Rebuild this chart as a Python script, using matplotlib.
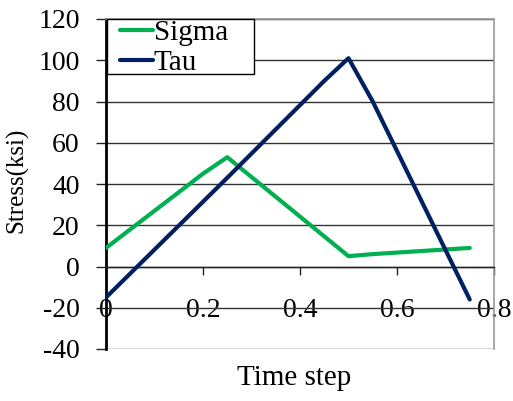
import matplotlib
matplotlib.use("Agg")
import matplotlib.pyplot as plt
from matplotlib.patches import Rectangle

# Stress history over the loading cycle
sigma_t = [0.0, 0.20, 0.25, 0.50, 0.55, 0.75]
sigma_v = [9.0, 45.0, 53.0, 5.0, 6.0, 9.0]

tau_t = [0.0, 0.25, 0.45, 0.50, 0.55, 0.75]
tau_v = [-15.0, 43.0, 90.0, 101.0, 80.0, -16.0]

y_ticks = [-40, -20, 0, 20, 40, 60, 80, 100, 120]
x_ticks = [0, 0.2, 0.4, 0.6, 0.8]
x_tick_labels = ["0", "0.2", "0.4", "0.6", "0.8"]

plt.rcParams['font.family'] = ['Liberation Serif', 'DejaVu Serif']

fig = plt.figure(figsize=(5.13, 4.01), dpi=100)
ax = fig.add_axes([106 / 513, 1 - 349 / 401, 388 / 513, 330 / 401])

ax.plot(sigma_t, sigma_v, color="#00B050", lw=3.0, label="Sigma",
        solid_joinstyle="round", solid_capstyle="round", zorder=3)
ax.plot(tau_t, tau_v, color="#002060", lw=3.0, label="Tau",
        solid_joinstyle="round", solid_capstyle="round", zorder=4)

ax.set_xlim(0, 0.8)
ax.set_ylim(-40, 120)
ax.set_yticks(y_ticks)
ax.set_yticklabels([str(v) for v in y_ticks])
ax.set_xticks(x_ticks)
ax.set_xticklabels(x_tick_labels)

# horizontal gridlines
ax.yaxis.grid(True, color="#333333", lw=1.0)
ax.xaxis.grid(False)
ax.set_axisbelow(True)

# horizontal axis crosses at zero
ax.spines["bottom"].set_position(("data", 0))
ax.spines["bottom"].set_color("#222222")
ax.spines["bottom"].set_linewidth(1.0)
ax.spines["left"].set_color("black")
ax.spines["left"].set_linewidth(2.0)
for s in ("top", "right"):
    ax.spines[s].set_color("#999999")
    ax.spines[s].set_linewidth(1.2)

ax.tick_params(axis="y", direction="out", length=7, width=1, color="#222222",
               labelsize=20, pad=12)
ax.tick_params(axis="x", direction="out", length=6, width=1, color="#222222",
               labelsize=20, pad=16.5)

ax.set_ylabel("Stress(ksi)", fontsize=18)
ax.yaxis.set_label_coords(-0.20, 0.512)
ax.set_xlabel("Time step", fontsize=21)
ax.xaxis.label.set_verticalalignment("baseline")
ax.xaxis.set_label_coords(0.485, -0.109)

# legend box drawn as its own patch, entries laid out inside it
box = Rectangle((1 / 388, (349 - 74) / 330), (254 - 107) / 388, 55 / 330,
                transform=ax.transAxes, facecolor="white", edgecolor="black",
                lw=1.0, zorder=6, clip_on=False)
ax.add_patch(box)
leg = ax.legend(loc="upper left", bbox_to_anchor=((119 - 106) / 388, 1.0),
                borderaxespad=0, frameon=False,
                fontsize=21, handlelength=1.13, handletextpad=0.05,
                labelspacing=0.12, borderpad=0.02)
leg.set_zorder(7)

fig.savefig("out.png", dpi=100)
